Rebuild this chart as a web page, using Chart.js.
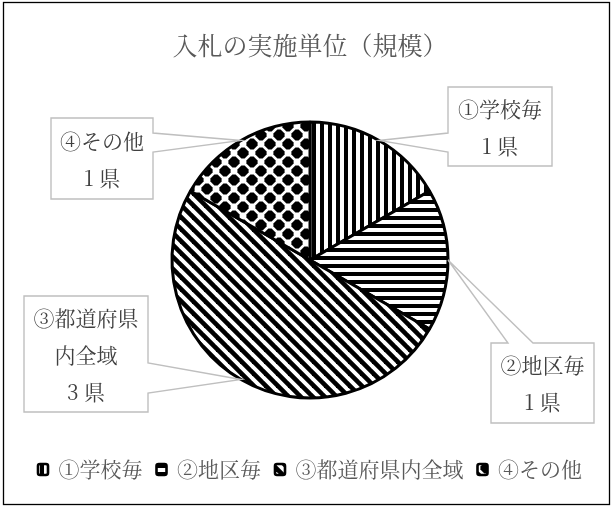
<!DOCTYPE html>
<html lang="ja">
<head>
<meta charset="utf-8">
<title>入札の実施単位（規模）</title>
<script src="https://cdn.jsdelivr.net/npm/chart.js@4.4.1/dist/chart.umd.min.js"></script>
<style>
  html, body { margin: 0; padding: 0; background: #fff; }
  #wrap { position: relative; width: 614px; height: 508px; }
</style>
</head>
<body>
<div id="wrap"><canvas id="c" width="614" height="508"></canvas></div>
<script>
// Bidding unit (scale) by prefecture count
const chartTitle = '入札の実施単位（規模）';
const categories = ['①学校毎', '②地区毎', '③都道府県内全域', '④その他'];
const prefectureCounts = [1, 1, 3, 1];
const unitSuffix = '県';

const FONT = "'Noto Serif CJK JP', 'Noto Sans CJK JP', serif";
const canvas = document.getElementById('c');
const ctx = canvas.getContext('2d');

// Black-and-white hatch fills for the slices
function makePattern(w, h, paint) {
  const tile = document.createElement('canvas');
  tile.width = w; tile.height = h;
  const g = tile.getContext('2d');
  g.fillStyle = '#fff';
  g.fillRect(0, 0, w, h);
  g.fillStyle = '#000';
  g.strokeStyle = '#000';
  paint(g, w, h);
  return ctx.createPattern(tile, 'repeat');
}

const sliceFills = [
  makePattern(8, 8, g => g.fillRect(0, 0, 4, 8)),          // vertical bars
  makePattern(8, 8, g => g.fillRect(0, 0, 8, 4)),          // horizontal bars
  makePattern(12, 12, g => {                                // diagonal bars
    g.lineWidth = 4.6;
    for (let k = -1; k <= 1; k++) {
      g.beginPath();
      g.moveTo(k * 12 - 2, -2);
      g.lineTo(k * 12 + 14, 14);
      g.stroke();
    }
  }),
  makePattern(18, 18, g => {                                // solid diamonds, blunted tips
    const r = 7.2, c = 1.6;
    [[0, 0], [18, 0], [0, 18], [18, 18], [9, 9]].forEach(([x, y]) => {
      g.beginPath();
      g.moveTo(x - c, y - r + c); g.lineTo(x + c, y - r + c);
      g.lineTo(x + r - c, y - c); g.lineTo(x + r - c, y + c);
      g.lineTo(x + c, y + r - c); g.lineTo(x - c, y + r - c);
      g.lineTo(x - r + c, y + c); g.lineTo(x - r + c, y - c);
      g.closePath();
      g.fill();
    });
  })
];

// Callout boxes: rectangle, side carrying the pointer, and pointer base span
const calloutBoxes = [
  { x1: 448, y1: 87,  x2: 552, y2: 166, side: 'left',  b1: 133, b2: 152 },
  { x1: 491, y1: 343, x2: 594, y2: 423, side: 'top',   b1: 508, b2: 533 },
  { x1: 24,  y1: 296, x2: 148, y2: 412, side: 'right', b1: 363, b2: 393 },
  { x1: 51,  y1: 118, x2: 153, y2: 199, side: 'right', b1: 133, b2: 152 }
];

function wrapChars(g, text, maxWidth) {
  const lines = [];
  let cur = '';
  for (const ch of text) {
    if (cur && g.measureText(cur + ch).width > maxWidth) {
      lines.push(cur);
      cur = ch;
    } else {
      cur += ch;
    }
  }
  if (cur) lines.push(cur);
  return lines;
}

const framePlugin = {
  id: 'frame',
  beforeDraw(chart) {
    const g = chart.ctx;
    g.save();
    g.fillStyle = '#fff';
    g.fillRect(0, 0, chart.width, chart.height);
    g.strokeStyle = '#000';
    g.lineWidth = 1.3;
    g.strokeRect(3.5, 2.5, 606, 502);
    g.restore();
  }
};

const calloutPlugin = {
  id: 'callouts',
  afterDatasetsDraw(chart) {
    const g = chart.ctx;
    const meta = chart.getDatasetMeta(0);
    const values = chart.data.datasets[0].data;
    g.save();
    meta.data.forEach((arc, i) => {
      const box = calloutBoxes[i];
      if (!box) return;
      const p = arc.getProps(['x', 'y', 'startAngle', 'endAngle', 'outerRadius'], true);
      const mid = (p.startAngle + p.endAngle) / 2;
      const tx = p.x + Math.cos(mid) * p.outerRadius;
      const ty = p.y + Math.sin(mid) * p.outerRadius;

      g.beginPath();
      g.moveTo(box.x1, box.y1);
      if (box.side === 'top') { g.lineTo(box.b1, box.y1); g.lineTo(tx, ty); g.lineTo(box.b2, box.y1); }
      g.lineTo(box.x2, box.y1);
      if (box.side === 'right') { g.lineTo(box.x2, box.b1); g.lineTo(tx, ty); g.lineTo(box.x2, box.b2); }
      g.lineTo(box.x2, box.y2);
      g.lineTo(box.x1, box.y2);
      if (box.side === 'left') { g.lineTo(box.x1, box.b2); g.lineTo(tx, ty); g.lineTo(box.x1, box.b1); }
      g.closePath();
      g.fillStyle = '#fff';
      g.fill();
      g.strokeStyle = '#bfbfbf';
      g.lineWidth = 1.4;
      g.lineJoin = 'miter';
      g.stroke();

      g.font = '21px ' + FONT;
      g.fillStyle = '#404040';
      g.textAlign = 'center';
      g.textBaseline = 'middle';
      const lines = wrapChars(g, chart.data.labels[i], box.x2 - box.x1 - 14);
      lines.push(values[i] + ' ' + unitSuffix);
      const step = 37;
      const cx = (box.x1 + box.x2) / 2;
      const cy = (box.y1 + box.y2) / 2 + 1;
      const y0 = cy - step * (lines.length - 1) / 2;
      lines.forEach((t, k) => g.fillText(t, cx, y0 + k * step));
    });
    g.restore();
  }
};

new Chart(canvas, {
  type: 'pie',
  data: {
    labels: categories,
    datasets: [{
      data: prefectureCounts,
      backgroundColor: sliceFills,
      borderColor: '#000',
      borderWidth: 3,
      radius: 138,
      hoverOffset: 0
    }]
  },
  options: {
    responsive: false,
    animation: false,
    layout: { padding: { top: 30, left: 12, right: 6, bottom: 18 } },
    plugins: {
      title: {
        display: true,
        text: chartTitle,
        color: '#595959',
        font: { size: 25, weight: 'normal', family: FONT },
        padding: { top: 0, bottom: 15 }
      },
      legend: {
        position: 'bottom',
        labels: {
          boxWidth: 10,
          boxHeight: 11,
          padding: 14,
          color: '#595959',
          font: { size: 21, family: FONT },
          useBorderRadius: true,
          borderRadius: 2,
          generateLabels(chart) {
            return Chart.overrides.doughnut.plugins.legend.labels.generateLabels(chart)
              .map(item => Object.assign(item, { lineWidth: 2.6, strokeStyle: '#000' }));
          }
        }
      },
      tooltip: { enabled: false }
    }
  },
  plugins: [framePlugin, calloutPlugin]
});
</script>
</body>
</html>
